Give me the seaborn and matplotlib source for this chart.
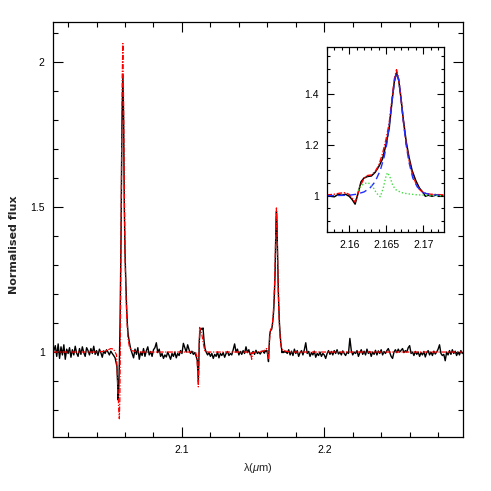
import numpy as np
import matplotlib
matplotlib.use("Agg")
import matplotlib.pyplot as plt
import seaborn as sns
from matplotlib.ticker import MultipleLocator, FormatStrFormatter

# ---- observed spectrum (black), split into continuum pieces and line pieces
cont_a_wave = [
    2.0095, 2.010, 2.011, 2.012, 2.013, 2.014, 2.015, 2.016, 2.017, 2.018,
    2.019, 2.020, 2.021, 2.022, 2.023, 2.024, 2.025, 2.026, 2.027, 2.028,
    2.029, 2.030, 2.031, 2.032, 2.033, 2.034, 2.035, 2.036, 2.037, 2.038,
    2.039, 2.040, 2.041, 2.042, 2.043, 2.044, 2.045, 2.046, 2.047, 2.048,
    2.049, 2.050, 2.051, 2.052, 2.053,
]
cont_a_flux = [
    0.998, 1.005, 1.022, 0.985, 1.028, 0.978, 1.018, 0.990, 1.025, 0.975,
    1.010, 0.995, 1.015, 0.982, 1.008, 0.990, 1.020, 0.996, 0.985, 1.012,
    0.992, 1.018, 0.998, 0.985, 1.015, 1.005, 0.990, 1.012, 0.995, 1.020,
    0.992, 1.005, 0.988, 1.010, 0.998, 0.982, 1.004, 0.995, 1.008, 1.000,
    0.990, 1.003, 0.995, 0.988, 0.980,
]
line_a_wave = [2.0543, 2.0548, 2.0551, 2.0555, 2.0560, 2.0565, 2.0572, 2.0578, 2.0585, 2.0590,
               2.0595, 2.0600, 2.0605, 2.0610, 2.0616, 2.0622, 2.0630, 2.0640]
line_a_flux = [0.950, 0.890, 0.835, 0.860, 0.960, 1.100, 1.400, 1.780, 1.955, 1.800,
               1.500, 1.340, 1.250, 1.170, 1.100, 1.060, 1.035, 1.010]

cont_b_wave = [
    2.065, 2.066, 2.067, 2.068, 2.069, 2.070, 2.071, 2.072, 2.073, 2.074,
    2.075, 2.076, 2.077, 2.078, 2.079, 2.080, 2.081, 2.082, 2.083, 2.084,
    2.085, 2.086, 2.087, 2.088, 2.089, 2.090, 2.091, 2.092, 2.093, 2.094,
    2.095, 2.096, 2.097, 2.098, 2.099, 2.100, 2.101, 2.102, 2.103, 2.104,
    2.105, 2.106, 2.107, 2.108, 2.109, 2.110,
]
cont_b_flux = [
    0.995, 0.980, 1.010, 0.992, 1.015, 0.975, 1.000, 0.988, 1.012, 0.985,
    1.005, 1.018, 0.990, 1.002, 0.985, 1.008, 1.015, 1.032, 0.998, 1.010,
    0.985, 0.995, 0.978, 0.990, 0.983, 1.000, 0.988, 0.975, 0.995, 0.985,
    1.000, 0.980, 0.995, 0.988, 1.005, 0.995, 1.030, 1.015, 1.000, 1.025,
    1.008, 0.995, 1.003, 0.992, 0.998, 0.985,
]
line_b_wave = [2.1108, 2.1115, 2.1122, 2.1128, 2.1135, 2.1142, 2.1148, 2.1155, 2.1162]
line_b_flux = [0.970, 0.898, 1.040, 1.075, 1.082, 1.078, 1.083, 1.040, 1.012]

cont_c_wave = [
    2.117, 2.118, 2.119, 2.120, 2.121, 2.122, 2.123, 2.124, 2.125, 2.126,
    2.127, 2.128, 2.129, 2.130, 2.131, 2.132, 2.133, 2.134, 2.135, 2.136,
    2.137, 2.138, 2.139, 2.140, 2.141, 2.142, 2.143, 2.144, 2.145, 2.146,
    2.147, 2.148, 2.149, 2.150, 2.151, 2.152, 2.153, 2.154, 2.155, 2.156,
]
cont_c_flux = [
    1.000, 0.990, 0.998, 0.985, 0.995, 0.978, 0.992, 0.985, 1.000, 0.980,
    0.995, 0.988, 0.998, 0.982, 0.995, 1.002, 0.988, 0.995, 0.990, 1.008,
    1.028, 1.000, 1.010, 0.990, 1.002, 0.992, 1.005, 0.995, 1.018, 0.998,
    1.008, 0.990, 0.996, 1.002, 0.992, 1.006, 0.995, 1.000, 0.993, 1.002,
]
line_c_wave = [
    2.1570, 2.1575, 2.1580, 2.1585, 2.1590, 2.1595, 2.1600, 2.1604, 2.1608, 2.1612,
    2.1616, 2.1620, 2.1625, 2.1630, 2.1635, 2.1640, 2.1645, 2.1650, 2.1654, 2.1658,
    2.1661, 2.1664, 2.1667, 2.1670, 2.1673, 2.1677, 2.1681, 2.1685, 2.1690, 2.1695,
    2.1700, 2.1703, 2.1707, 2.1712, 2.1718, 2.1724, 2.1730,
]
line_c_flux = [
    1.003, 0.998, 0.996, 1.005, 1.002, 1.006, 0.998, 0.985, 0.967, 1.010,
    1.055, 1.070, 1.076, 1.078, 1.092, 1.115, 1.145, 1.205, 1.265, 1.375,
    1.450, 1.485, 1.455, 1.385, 1.305, 1.215, 1.150, 1.100, 1.060, 1.030,
    1.012, 0.998, 1.002, 0.998, 1.003, 0.999, 1.002,
]

cont_d_wave = [
    2.174, 2.175, 2.176, 2.177, 2.178, 2.179, 2.180, 2.181, 2.182, 2.183,
    2.184, 2.185, 2.186, 2.187, 2.188, 2.189, 2.190, 2.191, 2.192, 2.193,
    2.194, 2.195, 2.196, 2.197, 2.198, 2.199, 2.200, 2.201, 2.202, 2.203,
    2.204, 2.205, 2.206, 2.207, 2.208, 2.209, 2.210, 2.211, 2.212, 2.213,
    2.214, 2.215, 2.216, 2.217, 2.218, 2.219, 2.220, 2.221, 2.222, 2.223,
    2.224, 2.225, 2.226, 2.227, 2.228, 2.229, 2.230, 2.231, 2.232, 2.233,
    2.234, 2.235, 2.236, 2.237, 2.238, 2.239, 2.240, 2.241, 2.242, 2.243,
    2.244, 2.245, 2.246, 2.247, 2.248, 2.249, 2.250, 2.251, 2.252, 2.253,
    2.254, 2.255, 2.256, 2.257, 2.258, 2.259, 2.260, 2.261, 2.262, 2.263,
    2.264, 2.265, 2.266, 2.267, 2.268, 2.269, 2.270, 2.271, 2.272, 2.273,
    2.274, 2.275, 2.276, 2.277, 2.278, 2.279, 2.280, 2.281, 2.282, 2.283,
    2.284, 2.285, 2.286, 2.287, 2.288, 2.289, 2.290, 2.291, 2.292, 2.293,
    2.294, 2.295, 2.296, 2.297,
]
cont_d_flux = [
    0.995, 1.008, 0.990, 1.003, 0.988, 1.010, 0.995, 1.005, 0.985, 0.998,
    1.005, 0.990, 1.008, 1.032, 0.995, 1.002, 0.985, 0.998, 0.990, 1.003,
    0.982, 0.995, 0.988, 1.000, 0.985, 0.995, 0.990, 0.978, 0.995, 1.005,
    0.992, 1.002, 0.990, 1.005, 0.995, 1.008, 0.993, 1.000, 0.990, 1.004,
    0.995, 0.988, 1.000, 0.995, 1.047, 1.005, 0.990, 1.000, 0.995, 1.005,
    0.985, 0.998, 1.008, 0.992, 1.003, 0.990, 1.010, 0.995, 1.002, 0.985,
    1.000, 0.992, 1.006, 0.990, 1.004, 0.995, 1.008, 0.990, 1.002, 0.995,
    1.005, 1.012, 0.998, 0.985, 0.978, 1.000, 1.008, 0.998, 1.010, 1.000,
    1.006, 1.012, 0.998, 1.005, 1.000, 1.015, 1.022, 0.995, 1.000, 0.988,
    1.002, 0.992, 1.000, 0.985, 0.998, 0.990, 1.002, 0.983, 0.998, 1.005,
    0.990, 1.000, 0.988, 1.003, 0.993, 1.000, 1.010, 1.025, 0.995, 0.988,
    0.992, 0.970, 1.000, 0.990, 1.005, 0.992, 1.008, 0.995, 1.003, 0.988,
    1.000, 0.990, 1.005, 0.995,
]

# ---- model fit (red dash-dot)
wave_fit = [
    2.0095, 2.040, 2.046, 2.050, 2.052, 2.0540, 2.0548, 2.0556, 2.0560, 2.0564,
    2.0568, 2.0574, 2.0580, 2.0585, 2.0590, 2.0595, 2.0600, 2.0605, 2.0612, 2.0620,
    2.0630, 2.0645, 2.070, 2.090, 2.1095, 2.1105, 2.1112, 2.1115, 2.1119, 2.1124,
    2.1130, 2.1140, 2.1150, 2.1160, 2.118, 2.146, 2.1483, 2.149, 2.1497, 2.152,
    2.1570, 2.1580, 2.1587, 2.1595, 2.1600, 2.1604, 2.1608, 2.1612, 2.1616, 2.1620,
    2.1625, 2.1630, 2.1635, 2.1640, 2.1645, 2.1650, 2.1654, 2.1658, 2.1661, 2.1664,
    2.1667, 2.1670, 2.1673, 2.1677, 2.1681, 2.1685, 2.1690, 2.1695, 2.1700, 2.1710,
    2.1730, 2.176, 2.297,
]
flux_fit = [
    1.000, 1.000, 1.003, 1.012, 1.010, 0.990, 0.900, 0.800, 0.770, 0.850,
    1.100, 1.550, 1.950, 2.064, 1.850, 1.550, 1.330, 1.220, 1.120, 1.050,
    1.020, 1.005, 1.000, 1.000, 1.000, 0.985, 0.920, 0.880, 0.960, 1.085,
    1.075, 1.060, 1.030, 1.005, 1.000, 1.000, 0.995, 0.975, 0.998, 1.000,
    1.003, 1.006, 1.010, 1.012, 1.005, 0.990, 0.975, 1.010, 1.045, 1.068,
    1.080, 1.082, 1.095, 1.120, 1.165, 1.225, 1.285, 1.385, 1.460, 1.497,
    1.460, 1.385, 1.300, 1.205, 1.140, 1.090, 1.050, 1.025, 1.012, 1.006,
    1.003, 1.000, 1.000,
]

# ---- Br gamma component (blue dashed, inset)
wave_brg = [2.1570, 2.1600, 2.1610, 2.1620, 2.1628, 2.1635, 2.1642, 2.1647, 2.1651, 2.1655,
            2.1659, 2.1662, 2.1664, 2.1667, 2.1670, 2.1673, 2.1677, 2.1681, 2.1686, 2.1692,
            2.1700, 2.1710, 2.1730]
flux_brg = [1.000, 1.002, 1.006, 1.015, 1.030, 1.055, 1.100, 1.150, 1.207, 1.300,
            1.400, 1.465, 1.486, 1.455, 1.385, 1.300, 1.200, 1.130, 1.070, 1.035,
            1.012, 1.004, 1.000]

# ---- second component (green dotted, inset)
wave_hei = [2.1612, 2.1615, 2.1620, 2.1626, 2.1632, 2.1637, 2.1642, 2.1646, 2.1650, 2.1652,
            2.1655, 2.1659, 2.1663, 2.1670, 2.1678, 2.1690, 2.1710, 2.1730]
flux_hei = [1.020, 1.035, 1.048, 1.051, 1.035, 1.010, 0.996, 1.030, 1.080, 1.091,
            1.075, 1.040, 1.024, 1.013, 1.008, 1.004, 1.001, 1.000]

wave_obs = cont_a_wave + line_a_wave + cont_b_wave + line_b_wave + cont_c_wave + line_c_wave + cont_d_wave
flux_obs = cont_a_flux + line_a_flux + cont_b_flux + line_b_flux + cont_c_flux + line_c_flux + cont_d_flux
assert len(wave_obs) == len(flux_obs)
assert len(wave_fit) == len(flux_fit)

sns.set_style("ticks")
plt.rcParams['font.family'] = ['Liberation Sans', 'DejaVu Sans']
plt.rcParams['mathtext.fontset'] = 'custom'
plt.rcParams['mathtext.it'] = 'Liberation Sans:italic'
plt.rcParams['mathtext.rm'] = 'Liberation Sans'

RED_DASHDOT = (0, (4, 1.2, 1, 1.2))


def style_axes(ax, xmaj, xmin, ymaj, ymin, fs):
    ax.xaxis.set_major_locator(MultipleLocator(xmaj))
    ax.xaxis.set_minor_locator(MultipleLocator(xmin))
    ax.yaxis.set_major_locator(MultipleLocator(ymaj))
    ax.yaxis.set_minor_locator(MultipleLocator(ymin))
    ax.xaxis.set_major_formatter(FormatStrFormatter('%g'))
    ax.yaxis.set_major_formatter(FormatStrFormatter('%g'))
    ax.tick_params(which='both', direction='in', top=True, right=True,
                   width=0.8, colors='black', labelsize=fs, pad=6)
    ax.tick_params(which='major', length=7)
    ax.tick_params(which='minor', length=3.5)
    for sp in ax.spines.values():
        sp.set_linewidth(0.9)
        sp.set_color('black')


fig = plt.figure(figsize=(4.91, 4.91), dpi=100)
ax = fig.add_axes([0.108, 0.110, 0.835, 0.845])

sns.lineplot(x=wave_obs, y=flux_obs, ax=ax, color='black', lw=1.0,
             estimator=None, sort=False)
sns.lineplot(x=wave_fit, y=flux_fit, ax=ax, color='red', lw=0.9,
             linestyle=RED_DASHDOT, estimator=None, sort=False)

ax.set_xlim(2.0094, 2.2975)
ax.set_ylim(0.707, 2.138)
style_axes(ax, 0.1, 0.02, 0.5, 0.1, 7.5)
ax.set_xlabel('λ($\\mu$m)', fontsize=8, labelpad=4)
ax.set_ylabel('Normalised flux', fontsize=8, fontweight='bold',
              family=['DejaVu Sans'])
ax.yaxis.set_label_coords(-0.083, 0.463)

# inset zoom on the 2.166 line
axi = fig.add_axes([0.666, 0.5275, 0.238, 0.377])
sns.lineplot(x=wave_obs, y=flux_obs, ax=axi, color='black', lw=1.1,
             estimator=None, sort=False)
sns.lineplot(x=wave_fit, y=flux_fit, ax=axi, color='red', lw=1.0,
             linestyle=RED_DASHDOT, estimator=None, sort=False)
sns.lineplot(x=wave_brg, y=flux_brg, ax=axi, color='#1f2fff', lw=1.0,
             linestyle=(0, (5, 3)), estimator=None, sort=False)
sns.lineplot(x=wave_hei, y=flux_hei, ax=axi, color='#44dd44', lw=1.0,
             linestyle=(0, (1, 1.5)), estimator=None, sort=False)
axi.set_xlim(2.157, 2.1728)
axi.set_ylim(0.857, 1.587)
style_axes(axi, 0.005, 0.001, 0.2, 0.05, 7.5)
axi.tick_params(which='major', length=5)
axi.tick_params(which='minor', length=2.5)
axi.set_xlabel('')
axi.set_ylabel('')

fig.savefig('out.png', dpi=100)
